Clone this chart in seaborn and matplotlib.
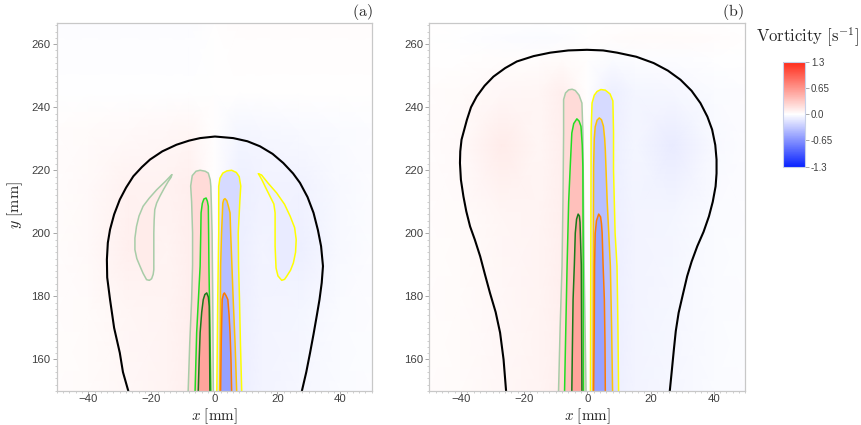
import numpy as np
import matplotlib
matplotlib.use("Agg")
import matplotlib.pyplot as plt
from matplotlib.colors import LinearSegmentedColormap, Normalize
from matplotlib.cm import ScalarMappable
import seaborn as sns

# ---------------- data (x, y in mm) ----------------
# interface outlines
a_outline = [(-27.3,150),(-29.0,156),(-30.0,162.1),(-31.8,170),(-33.1,179),(-34.0,186),(-34.1,191.7),
             (-33.8,197),(-33.1,201.2),(-31.8,206),(-30.0,210.7),(-28.0,214.5),(-25.7,218.1),(-23.0,221),
             (-20.4,223.4),(-16.5,226),(-12.0,228.1),(-8,229.4),(-4.5,230.2),(0.2,230.7),(6.0,230.2),
             (10.5,229.2),(14.5,227.6),(18.5,225.2),(21.9,222.3),(25,219),(27.2,216.0),(29.6,211.5),
             (31.5,206.5),(32.9,201),(33.9,195.9),(34.5,189.6),(34.1,184.3),(33.4,179),(32.5,173.7),
             (31.5,168),(30.4,162.1),(29.2,156),(27.8,150)]
b_outline = [(-25.7,150),(-26.5,160),(-27.6,168.5),(-29.0,175),(-30.8,181.1),(-32.4,187),(-33.9,192.7),
             (-35.6,198),(-37.1,202.2),(-38.3,207),(-39.2,211.7),(-40.0,217),(-40.3,222.3),(-40.2,226),
             (-39.8,229.7),(-38.1,236),(-36.8,240),(-35,243.4),(-32.5,246.8),(-29.7,249.7),(-26,252.4),
             (-22.3,254.5),(-17,256.2),(-11.7,257.3),(-6,258),(-0.1,258.2),(5,258),(9.4,257.3),(15.5,256),
             (21.0,254),(25.5,251.6),(29.5,248.7),(33,245.2),(35.8,241.3),(38,237),(39.5,232.9),(40.5,228),
             (40.9,223.4),(40.9,219),(40.6,214.9),(39.7,210),(38.5,205.4),(36.8,200.5),(34.8,195.9),
             (33,191),(31.6,186.4),(30.1,180),(28.9,174.8),(28,169),(27.4,163.2),(26.7,156),(26.1,150)]

# vorticity iso-lines, panel (a)
a_pos_low = [(-8.3,150),(-7.8,165),(-7.2,179),(-6.9,190),(-6.9,200.1),(-7.2,210),(-7.5,215),(-7.0,218.3),
             (-5.8,219.7),(-4.5,220),(-2.9,219.7),(-1.9,219.1),(-1.3,217),(-1.1,214.9),(-0.9,208),
             (-0.7,200.1),(-0.5,180),(-0.3,150)]
a_pos_mid = [(-6.1,150),(-5.6,168.5),(-5.0,180),(-4.5,189.6),(-4.3,200),(-4.2,206.5),(-3.8,209.5),
             (-3.3,210.9),(-2.6,211.2),(-2.2,210.2),(-1.9,208.6),(-1.8,200),(-1.7,189.6),(-1.4,170),(-1.1,150)]
a_pos_high = [(-5.1,150),(-4.8,160),(-4.5,168.5),(-4.0,175),(-3.5,179),(-3.0,180.6),(-2.4,181.1),
              (-1.9,179.8),(-1.6,176.9),(-1.5,165),(-1.4,150)]
a_pos_lobe = [(-13.5,218.6),(-15.5,216.5),(-18.3,213.8),(-20.7,211.1),(-22.6,208.6),(-23.9,205.5),
              (-24.7,202.2),(-25.2,198.5),(-25.2,194.8),(-24.6,192),(-23.6,189.6),(-22.6,187.3),
              (-21.5,185.3),(-20.6,185.1),(-19.9,185.6),(-19.4,187),(-19.2,188.5),(-19.2,194),
              (-19.2,200.1),(-19.1,204),(-18.9,207.5),(-18.3,209.6),(-17.3,211.7),(-16.0,214.1),
              (-14.6,216.5),(-13.7,217.8),(-13.5,218.6)]
a_neg_low = [(0.8,150),(1.1,180),(1.4,200.1),(1.4,214.9),(1.8,217.5),(2.7,219.1),(4.0,219.8),(5.5,220),
             (7.0,219.3),(7.9,218),(8.4,215),(8.1,210),(7.6,200.1),(7.7,190),(8.0,179),(8.3,165),(8.7,150)]
a_neg_mid = [(1.7,150),(1.9,170),(2.0,189.6),(2.3,200),(2.7,209.6),(3.0,210.7),(3.4,211),(4.0,210.3),
             (4.5,208.5),(5.0,206.5),(5.2,200),(5.6,189.6),(6.0,179),(6.6,165),(7.1,150)]
a_neg_high = [(2.0,150),(2.2,165),(2.5,179),(2.9,180.7),(3.2,181.1),(3.7,180.3),(4.3,179),(4.7,174),
              (5.0,168.5),(5.3,160),(5.5,150)]
a_neg_lobe = [(14.0,218.9),(15.1,217),(16.3,214.5),(17.7,211.7),(18.9,209.3),(19.3,206.5),(19.3,200),
              (19.3,195.9),(19.6,189),(20.2,186.5),(21.4,185.1),(22.3,185.4),(23.0,186.4),(24.2,188.3),
              (25.1,190.6),(25.8,194),(26.0,198),(25.5,201.8),(24.1,205.4),(22.3,209.2),(19.8,212.8),
              (17.0,216),(15.0,218.5),(14.0,218.9)]

# vorticity iso-lines, panel (b)
b_pos_low = [(-9.1,150),(-8.6,170),(-8.0,189.6),(-7.7,210),(-7.5,231.8),(-7.5,242.4),(-6.9,244.5),
             (-5.9,245.5),(-4.8,245.7),(-3.8,245.3),(-2.6,243.8),(-1.7,241.3),(-1.4,232),(-1.2,210),
             (-1.0,189.6),(-0.7,170),(-0.4,150)]
b_pos_mid = [(-7.2,150),(-6.8,170),(-6.4,189.6),(-5.9,210),(-5.4,221.2),(-4.9,231.8),(-4.3,234.8),
             (-3.3,236.3),(-2.6,235.6),(-2.0,233.9),(-1.6,228),(-1.4,221),(-1.3,190),(-1.2,150)]
b_pos_high = [(-4.9,150),(-4.7,165),(-4.5,179),(-4.1,190),(-3.8,200.1),(-3.4,204.5),(-2.9,206.1),
              (-2.5,205.5),(-2.3,203.5),(-2.2,200),(-1.9,190),(-1.8,170),(-1.7,150)]
b_neg_low = [(1.0,150),(1.1,190),(1.2,232),(1.5,241.3),(2.2,243.8),(3.1,245),(4.3,245.6),(5.7,245.4),
             (7.2,244.2),(8.1,242),(8.3,232),(8.3,220),(8.8,200),(9.4,189.6),(9.7,170),(9.9,150)]
b_neg_mid = [(1.8,150),(1.9,190),(2.0,221),(2.2,230),(2.5,233.8),(3.1,235.9),(3.8,236.6),(4.5,236),
             (5.1,234),(5.5,230),(5.7,226.5),(6.3,210),(7.3,189.6),(7.7,170),(8.0,150)]
b_neg_high = [(2.0,150),(2.2,170),(2.3,189.6),(2.5,200),(2.9,204),(3.6,206.1),(4.2,205.2),(4.5,203),
              (4.7,200.1),(5.0,190),(5.4,179),(5.6,165),(5.7,150)]

# vorticity inside each iso-line region (s^-1)
fill_low, fill_mid, fill_high, fill_lobe = 0.22, 0.38, 0.55, 0.12

# faint background vorticity (coarse samples)
bg_x = [-50, -40, -27, -15, -8, 0, 8, 15, 27, 40, 50]
a_bg_y = [150, 175, 195, 215, 232, 245, 267]
a_bg = [[0.02, 0.03, 0.05, 0.07, 0.10, 0, -0.10, -0.07, -0.05, -0.03, -0.02],
        [0.02, 0.03, 0.06, 0.07, 0.10, 0, -0.10, -0.07, -0.06, -0.03, -0.02],
        [0.02, 0.04, 0.10, 0.07, 0.10, 0, -0.10, -0.07, -0.10, -0.04, -0.02],
        [0.02, 0.04, 0.08, 0.08, 0.10, 0, -0.10, -0.08, -0.08, -0.04, -0.02],
        [0.02, 0.03, 0.04, 0.05, 0.06, 0, -0.06, -0.05, -0.04, -0.03, -0.02],
        [-0.01, -0.01, -0.01, -0.01, -0.01, 0, 0.01, 0.01, 0.01, 0.01, 0.01],
        [-0.02, -0.02, -0.02, -0.02, -0.02, 0, 0.02, 0.02, 0.02, 0.02, 0.02]]
b_bg_y = [150, 180, 205, 228, 245, 255, 262, 267]
b_bg = [[0.02, 0.03, 0.05, 0.07, 0.10, 0, -0.10, -0.07, -0.05, -0.03, -0.02],
        [0.02, 0.03, 0.05, 0.07, 0.10, 0, -0.10, -0.07, -0.05, -0.03, -0.02],
        [0.02, 0.03, 0.06, 0.07, 0.10, 0, -0.10, -0.07, -0.06, -0.03, -0.02],
        [0.02, 0.04, 0.12, 0.06, 0.10, 0, -0.10, -0.06, -0.12, -0.04, -0.02],
        [0.02, 0.03, 0.05, 0.06, 0.10, 0, -0.10, -0.06, -0.05, -0.03, -0.02],
        [0.01, 0.01, 0.02, 0.02, 0.03, 0, -0.03, -0.02, -0.02, -0.01, -0.01],
        [0.0, -0.01, -0.02, -0.03, -0.02, 0, 0.02, 0.03, 0.03, 0.02, 0.0],
        [0.0, 0.0, -0.01, -0.01, -0.01, 0, 0.01, 0.01, 0.01, 0.0, 0.0]]

cbar_ticks = [1.3, 0.65, 0.0, -0.65, -1.3]
cbar_labels = ["1.3", "0.65", "0.0", "-0.65", "-1.3"]
xticks = [-40, -20, 0, 20, 40]
yticks = [160, 180, 200, 220, 240, 260]

# ---------------- styling ----------------
sns.set_theme(style="white")
plt.rcParams["font.family"] = ["Liberation Sans", "DejaVu Sans"]
plt.rcParams["mathtext.fontset"] = "cm"

cmap = LinearSegmentedColormap.from_list("bwr_pv", ["#0a24ff", "#ffffff", "#ff2a18"])
norm = Normalize(-1.3, 1.3)

c_pos = ["#a8cca8", "#22dd22", "#1a7a1a"]
c_neg = ["#ffff00", "#ffc400", "#ff7a00"]

fig = plt.figure(figsize=(8.61, 4.25), dpi=100)
ax_a = fig.add_axes([56.8/861, 1-391/425, 315/861, 368/425])
ax_b = fig.add_axes([429.3/861, 1-391/425, 316/861, 368/425])


def draw_line(ax, pts, color, lw):
    arr = np.array(pts)
    sns.lineplot(x=arr[:, 0], y=arr[:, 1], sort=False, estimator=None, color=color,
                 lw=lw, ax=ax, legend=False)


def fill_poly(ax, pts, val):
    arr = np.array(pts)
    ax.fill(arr[:, 0], arr[:, 1], color=cmap(norm(val)), lw=0, zorder=2)


def panel(ax, bg_y, bg, outline, pos, neg, pos_lobe=None, neg_lobe=None):
    X, Y = np.meshgrid(bg_x, bg_y)
    ax.pcolormesh(X, Y, np.array(bg), shading="gouraud", cmap=cmap, norm=norm, zorder=1)
    if pos_lobe is not None:
        fill_poly(ax, pos_lobe, fill_lobe)
        fill_poly(ax, neg_lobe, -fill_lobe)
    for pts, v in zip(pos, [fill_low, fill_mid, fill_high]):
        fill_poly(ax, pts, v)
    for pts, v in zip(neg, [fill_low, fill_mid, fill_high]):
        fill_poly(ax, pts, -v)
    if pos_lobe is not None:
        draw_line(ax, pos_lobe, c_pos[0], 1.1)
        draw_line(ax, neg_lobe, c_neg[0], 1.1)
    for pts, c in zip(pos, c_pos):
        draw_line(ax, pts, c, 1.1)
    for pts, c in zip(neg, c_neg):
        draw_line(ax, pts, c, 1.1)
    draw_line(ax, outline, "black", 1.5)

    ax.set_xlim(-50, 50)
    ax.set_ylim(150, 266.7)
    ax.set_xticks(xticks)
    ax.set_yticks(yticks)
    ax.set_xticks(np.arange(-50, 51, 2), minor=True)
    ax.set_yticks(np.arange(150, 267, 2), minor=True)
    ax.tick_params(which="major", length=3, width=0.6, color="#999999", direction="out",
                   labelsize=8.2, labelcolor="#404040", pad=1.5, bottom=True, left=True)
    ax.tick_params(axis="x", which="major", length=2, pad=0.3)
    ax.tick_params(which="minor", length=1.5, width=0.5, color="#bbbbbb", direction="out",
                   bottom=True, left=True)
    for s in ax.spines.values():
        s.set_color("#c8c8c8")
        s.set_linewidth(0.9)
    ax.set_xlabel(r"$x\ [\mathrm{mm}]$", fontsize=10.8)
    ax.xaxis.set_label_coords(0.5, -0.043)


panel(ax_a, a_bg_y, a_bg, a_outline, [a_pos_low, a_pos_mid, a_pos_high],
      [a_neg_low, a_neg_mid, a_neg_high], a_pos_lobe, a_neg_lobe)
panel(ax_b, b_bg_y, b_bg, b_outline, [b_pos_low, b_pos_mid, b_pos_high],
      [b_neg_low, b_neg_mid, b_neg_high])

ax_a.set_ylabel(r"$y\ [\mathrm{mm}]$", fontsize=11.5)
ax_a.yaxis.set_label_coords(-0.1, 0.505)

fig.text(362/861, 1-12/425, r"$(\mathrm{a})$", ha="center", va="center", fontsize=11.5)
fig.text(733/861, 1-12/425, r"$(\mathrm{b})$", ha="center", va="center", fontsize=11.5)

# colorbar
cax = fig.add_axes([782.7/861, 1-166.7/425, 22.6/861, 105/425])
cb = fig.colorbar(ScalarMappable(norm=norm, cmap=cmap), cax=cax, ticks=cbar_ticks)
cb.ax.set_yticklabels(cbar_labels)
cb.ax.tick_params(length=3, width=0.6, color="#999999", labelsize=7, labelcolor="#404040", pad=1)
cb.outline.set_edgecolor("#c8d0e8")
cb.outline.set_linewidth(0.8)
fig.text(808/861, 1-37/425, r"$\mathrm{Vorticity}\ [\mathrm{s}^{-1}]$", ha="center", va="center",
         fontsize=12)

fig.savefig("out.png", dpi=100)
